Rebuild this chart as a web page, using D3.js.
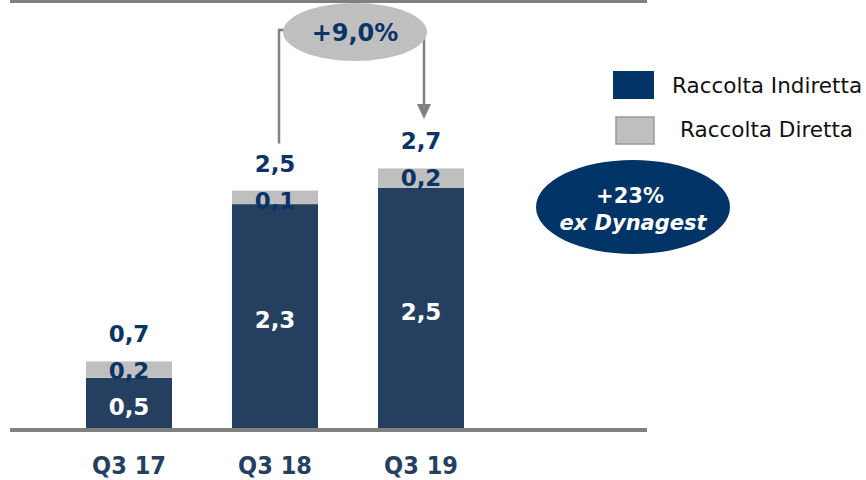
<!DOCTYPE html>
<html>
<head>
<meta charset="utf-8">
<script src="https://cdn.jsdelivr.net/npm/d3@7"></script>
<style>
  body { margin: 0; background: #fff; }
  text { font-family: Verdana, "DejaVu Sans", sans-serif; }
</style>
</head>
<body>
<svg width="866" height="480"></svg>
<script>
var categories = ["Q3 17", "Q3 18", "Q3 19"];
var indiretta = [0.52, 2.32, 2.49];
var diretta = [0.17, 0.14, 0.2];
var seriesNames = ["Raccolta Indiretta", "Raccolta Diretta"];
var growthLabel = "+9,0%";
var noteLines = ["+23%", "ex Dynagest"];

var svg = d3.select("svg"),
    width = +svg.attr("width"),
    height = +svg.attr("height");

var dark = "#253f61", grey = "#bfbfbf", navy = "#0b3466", lineGrey = "#808080";
var fmt = function(v) { return d3.format(".1f")(v).replace(".", ","); };

var data = categories.map(function(c, i) {
  return {cat: c, ind: indiretta[i], dir: diretta[i], tot: indiretta[i] + diretta[i]};
});

var x = d3.scaleBand().domain(categories).range([86, 464]).paddingInner(60 / 146).paddingOuter(0);
var y = d3.scaleLinear().domain([0, 4.4352]).range([428, 0]);

// top rule
svg.append("line").attr("x1", 10).attr("x2", 647).attr("y1", 1.5).attr("y2", 1.5)
    .attr("stroke", lineGrey).attr("stroke-width", 3);

var g = svg.selectAll(".bar").data(data).enter().append("g").attr("class", "bar");

g.append("rect")
    .attr("x", function(d) { return x(d.cat); })
    .attr("width", x.bandwidth())
    .attr("y", function(d) { return y(d.ind); })
    .attr("height", function(d) { return y(0) - y(d.ind); })
    .attr("fill", dark);

g.append("rect")
    .attr("x", function(d) { return x(d.cat); })
    .attr("width", x.bandwidth())
    .attr("y", function(d) { return y(d.tot); })
    .attr("height", function(d) { return y(d.ind) - y(d.tot); })
    .attr("fill", grey);

// baseline
svg.append("line").attr("x1", 10).attr("x2", 647).attr("y1", 430).attr("y2", 430)
    .attr("stroke", lineGrey).attr("stroke-width", 4);

var cx = function(d) { return x(d.cat) + x.bandwidth() / 2; };

g.append("text")
    .attr("x", cx)
    .attr("y", function(d) { return (y(0) + y(d.ind)) / 2 + 4; })
    .attr("dy", "0.35em").attr("text-anchor", "middle")
    .attr("fill", "#fff").attr("font-weight", "bold").attr("font-size", 23)
    .text(function(d) { return fmt(d.ind); });

g.append("text")
    .attr("x", cx)
    .attr("y", function(d) { return y(d.tot) + 10; })
    .attr("dy", "0.35em").attr("text-anchor", "middle")
    .attr("fill", navy).attr("font-weight", "bold").attr("font-size", 23)
    .text(function(d) { return fmt(d.dir); });

g.append("text")
    .attr("x", cx)
    .attr("y", function(d) { return y(d.tot) - 27; })
    .attr("dy", "0.35em").attr("text-anchor", "middle")
    .attr("fill", navy).attr("font-weight", "bold").attr("font-size", 23)
    .text(function(d) { return fmt(d.tot); });

g.append("text")
    .attr("x", cx)
    .attr("y", 474)
    .attr("text-anchor", "middle")
    .attr("fill", dark).attr("font-weight", "bold").attr("font-size", 25)
    .style("font-family", "'DejaVu Sans Condensed', 'DejaVu Sans', sans-serif")
    .style("font-stretch", "condensed")
    .text(function(d) { return d.cat; });

// growth connector
var x18 = cx(data[1]) + 4, x19 = cx(data[2]) + 3;
svg.append("path")
    .attr("d", "M" + x18 + "," + (y(data[1].tot) - 47) + "V30H300")
    .attr("fill", "none").attr("stroke", lineGrey).attr("stroke-width", 2.5);
svg.append("path")
    .attr("d", "M" + x19 + ",38V104")
    .attr("fill", "none").attr("stroke", lineGrey).attr("stroke-width", 2.5);
svg.append("path")
    .attr("d", "M" + (x19 - 7) + ",104H" + (x19 + 7) + "L" + x19 + ",119Z")
    .attr("fill", lineGrey);

svg.append("ellipse").attr("cx", 355).attr("cy", 32).attr("rx", 72).attr("ry", 29).attr("fill", grey);
svg.append("text").attr("x", 355).attr("y", 33).attr("dy", "0.35em").attr("text-anchor", "middle")
    .attr("fill", navy).attr("font-weight", "bold").attr("font-size", 24).text(growthLabel);

// legend
var legend = svg.selectAll(".legend").data(seriesNames).enter().append("g").attr("class", "legend");
legend.append("rect")
    .attr("x", function(d, i) { return i ? 616 : 613; })
    .attr("y", function(d, i) { return i ? 117 : 71; })
    .attr("width", function(d, i) { return i ? 38 : 41; })
    .attr("height", function(d, i) { return i ? 27 : 28; })
    .attr("fill", function(d, i) { return i ? grey : "#003366"; })
    .attr("stroke", function(d, i) { return i ? "#999" : "none"; })
    .attr("stroke-width", 1.5);
legend.append("text")
    .attr("x", function(d, i) { return i ? 680 : 672; })
    .attr("y", function(d, i) { return i ? 129 : 85; })
    .attr("dy", "0.35em").attr("font-size", 21.5).attr("fill", "#111")
    .text(function(d) { return d; });

// note bubble
svg.append("ellipse").attr("cx", 633).attr("cy", 207).attr("rx", 97).attr("ry", 47).attr("fill", "#003366");
svg.append("text").attr("x", 630).attr("y", 196).attr("dy", "0.35em").attr("text-anchor", "middle")
    .attr("fill", "#fff").attr("font-weight", "bold").attr("font-size", 21).text(noteLines[0]);
svg.append("text").attr("x", 633).attr("y", 223).attr("dy", "0.35em").attr("text-anchor", "middle")
    .attr("fill", "#fff").attr("font-weight", "bold").attr("font-style", "italic").attr("font-size", 21).text(noteLines[1]);
</script>
</body>
</html>
